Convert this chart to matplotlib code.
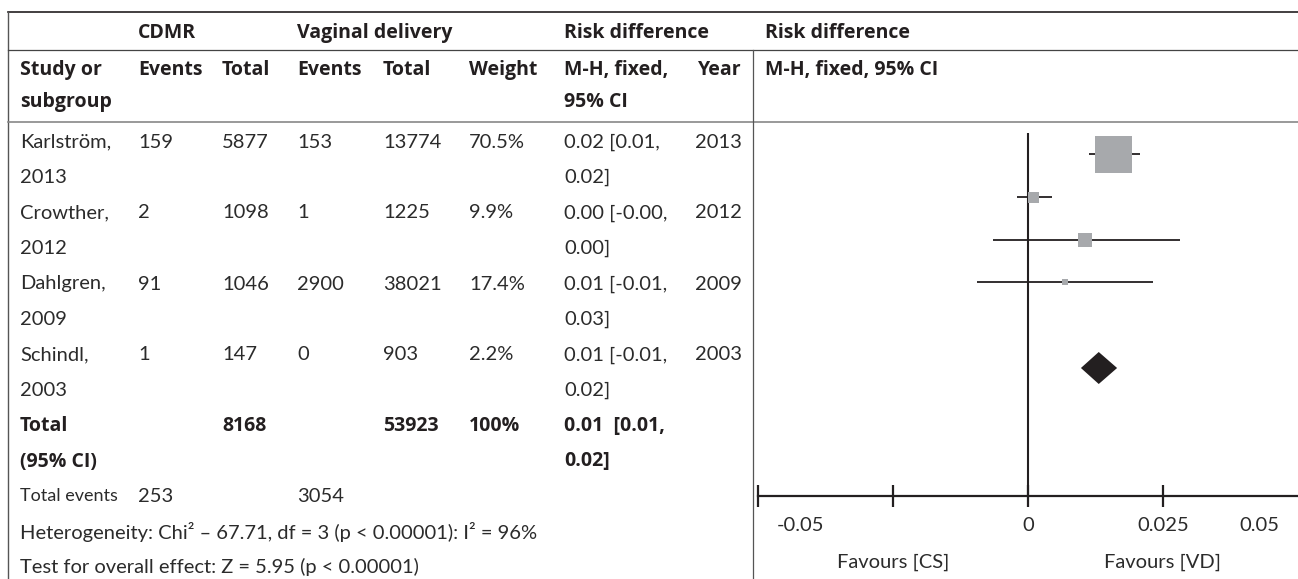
import matplotlib
matplotlib.use('Agg')
import matplotlib.pyplot as plt
from matplotlib.lines import Line2D
from matplotlib.patches import Polygon

plt.rcParams['font.family'] = ['Lato', 'DejaVu Sans']

# ---------------- data ----------------
studies = ['Karlström,', 'Crowther,', 'Dahlgren,', 'Schindl,']
years = [2013, 2012, 2009, 2003]
cdmr_events = [159, 2, 91, 1]
cdmr_total = [5877, 1098, 1046, 147]
vd_events = [153, 1, 2900, 0]
vd_total = [13774, 1225, 38021, 903]
weights = [70.5, 9.9, 17.4, 2.2]
rd = [0.0157, 0.0010, 0.0106, 0.0069]
rd_lo = [0.0113, -0.0020, -0.0065, -0.0094]
rd_hi = [0.0207, 0.0044, 0.0281, 0.0231]
total_rd, total_lo, total_hi = 0.0131, 0.0098, 0.0165
total_cdmr, total_vd, total_weight = 8168, 53923, 100
events_cdmr, events_vd = 253, 3054
heterogeneity = 'Heterogeneity: Chi² – 67.71, df = 3 (p < 0.00001): I² = 96%'
overall = 'Test for overall effect: Z = 5.95 (p < 0.00001)'
tick_values = [-0.05, -0.025, 0, 0.025]
tick_labels = {-0.05: '-0.05', 0: '0', 0.025: '0.025', 0.05: '0.05'}
favours = ['Favours [CS]', 'Favours [VD]']

# ---------------- style ----------------
W, H = 1298, 579
INK = '#231f20'
TXT = '#2b2b2b'
GREY = '#a7a9ac'
FS = 14.5
FSB = 14
REG_FONT = ['Lato', 'DejaVu Sans']
BOLD_FONT = ['Open Sans', 'DejaVu Sans']
square_px = [37, 11, 14, 6]

fig = plt.figure(figsize=(W / 100, H / 100), dpi=100)


def T(x, y, s, bold=False, ha='left', size=None):
    fig.text(x / W, 1 - y / H, s,
             fontsize=size if size else (FSB if bold else FS),
             family=BOLD_FONT if bold else REG_FONT,
             color=INK if bold else TXT,
             ha=ha, va='center', fontweight='bold' if bold else 'normal')


def L(x0, y0, x1, y1, color=INK, lw=1.0):
    fig.add_artist(Line2D([x0 / W, x1 / W], [1 - y0 / H, 1 - y1 / H],
                          color=color, lw=lw, transform=fig.transFigure))


# frame lines
L(8, 12, W, 12, INK, 1.2)
L(8, 12, 8, H, '#555555', 1.0)
L(8, 50, W, 50, '#444444', 0.9)
L(8, 122, W, 122, '#888888', 1.2)
L(753, 50, 753, H, '#555555', 0.9)

# headers
T(138, 33, 'CDMR', True)
T(297, 33, 'Vaginal delivery', True)
T(564, 33, 'Risk difference', True)
T(765, 33, 'Risk difference', True)
T(20, 70, 'Study or', True)
T(138, 70, 'Events', True)
T(222, 70, 'Total', True)
T(297, 70, 'Events', True)
T(383, 70, 'Total', True)
T(469, 70, 'Weight', True)
T(564, 70, 'M-H, fixed,', True)
T(742, 70, 'Year', True, ha='right')
T(765, 70, 'M-H, fixed, 95% CI', True)
T(20, 102, 'subgroup', True)
T(564, 102, '95% CI', True)

# study rows
for i in range(len(studies)):
    y1 = 142 + 71 * i
    y2 = y1 + 35.5
    T(20, y1, studies[i])
    T(20, y2, str(years[i]))
    T(138, y1, str(cdmr_events[i]))
    T(222, y1, str(cdmr_total[i]))
    T(297, y1, str(vd_events[i]))
    T(383, y1, str(vd_total[i]))
    T(469, y1, f'{weights[i]:.1f}%')
    T(564, y1, f'{rd[i]:.2f} [{rd_lo[i]:.2f},')
    T(564, y2, f'{rd_hi[i]:.2f}]')
    T(742, y1, str(years[i]), ha='right')

# total rows
y1 = 142 + 71 * 4
T(20, y1, 'Total', True)
T(20, y1 + 35.5, '(95% CI)', True)
T(222, y1, str(total_cdmr), True)
T(383, y1, str(total_vd), True)
T(469, y1, f'{total_weight}%', True)
T(564, y1, f'{total_rd:.2f}  [{total_lo:.2f},', True)
T(564, y1 + 35.5, f'{total_hi:.2f}]', True)
T(20, 496, 'Total events', size=13)
T(138, 496, str(events_cdmr))
T(297, 496, str(events_vd))
T(20, 531.5, heterogeneity)
T(20, 567, overall)

# ---------------- forest plot ----------------
row0_px, row_step = 154, 42.8
top_idx = (122 - row0_px) / row_step
bot_idx = (H - row0_px) / row_step
ax = fig.add_axes([758 / W, 0, (W - 758) / W, (H - 122) / H])
ax.set_xlim(-0.05, 0.05)
ax.set_ylim(bot_idx, top_idx)
ax.patch.set_alpha(0)
for s in ['top', 'left', 'right']:
    ax.spines[s].set_visible(False)
axis_row = 8
ax.spines['bottom'].set_position(('data', axis_row))
ax.spines['bottom'].set_linewidth(1.6)
ax.spines['bottom'].set_color(INK)
ax.set_yticks([])
ax.set_xticks(tick_values)
ax.tick_params(axis='x', direction='inout', length=16.5, width=1.6, color=INK,
               labelbottom=False)

# zero line
ax.plot([0, 0], [(133 - row0_px) / row_step, axis_row], color=INK, lw=1.5,
        solid_capstyle='butt')

for i in range(len(studies)):
    ax.plot([rd_lo[i], rd_hi[i]], [i, i], color=INK, lw=1.3, solid_capstyle='butt')
    ax.plot([rd[i]], [i], marker='s', color=GREY, markersize=square_px[i] * 0.72,
            markeredgewidth=0, linestyle='none')

d_row = 5
h = 16 / row_step
ax.add_patch(Polygon([(total_lo, d_row), (total_rd, d_row - h), (total_hi, d_row),
                      (total_rd, d_row + h)], closed=True, color=INK, lw=0))

# tick labels
for v, lab in tick_labels.items():
    if v == -0.05:
        ha, dx = 'left', 19
    elif v == 0.05:
        ha, dx = 'right', -19
    else:
        ha, dx = 'center', 0
    ax.annotate(lab, xy=(v, axis_row), xytext=(dx * 0.72, -29 * 0.72),
                textcoords='offset points', ha=ha, va='center', fontsize=FS,
                family=REG_FONT, color=TXT, annotation_clip=False)

for v, lab in zip([-0.025, 0.025], favours):
    ax.annotate(lab, xy=(v, axis_row), xytext=(0, -66 * 0.72),
                textcoords='offset points', ha='center', va='center',
                fontsize=FS, family=REG_FONT, color=TXT, annotation_clip=False)

fig.savefig('out.png', dpi=100)
